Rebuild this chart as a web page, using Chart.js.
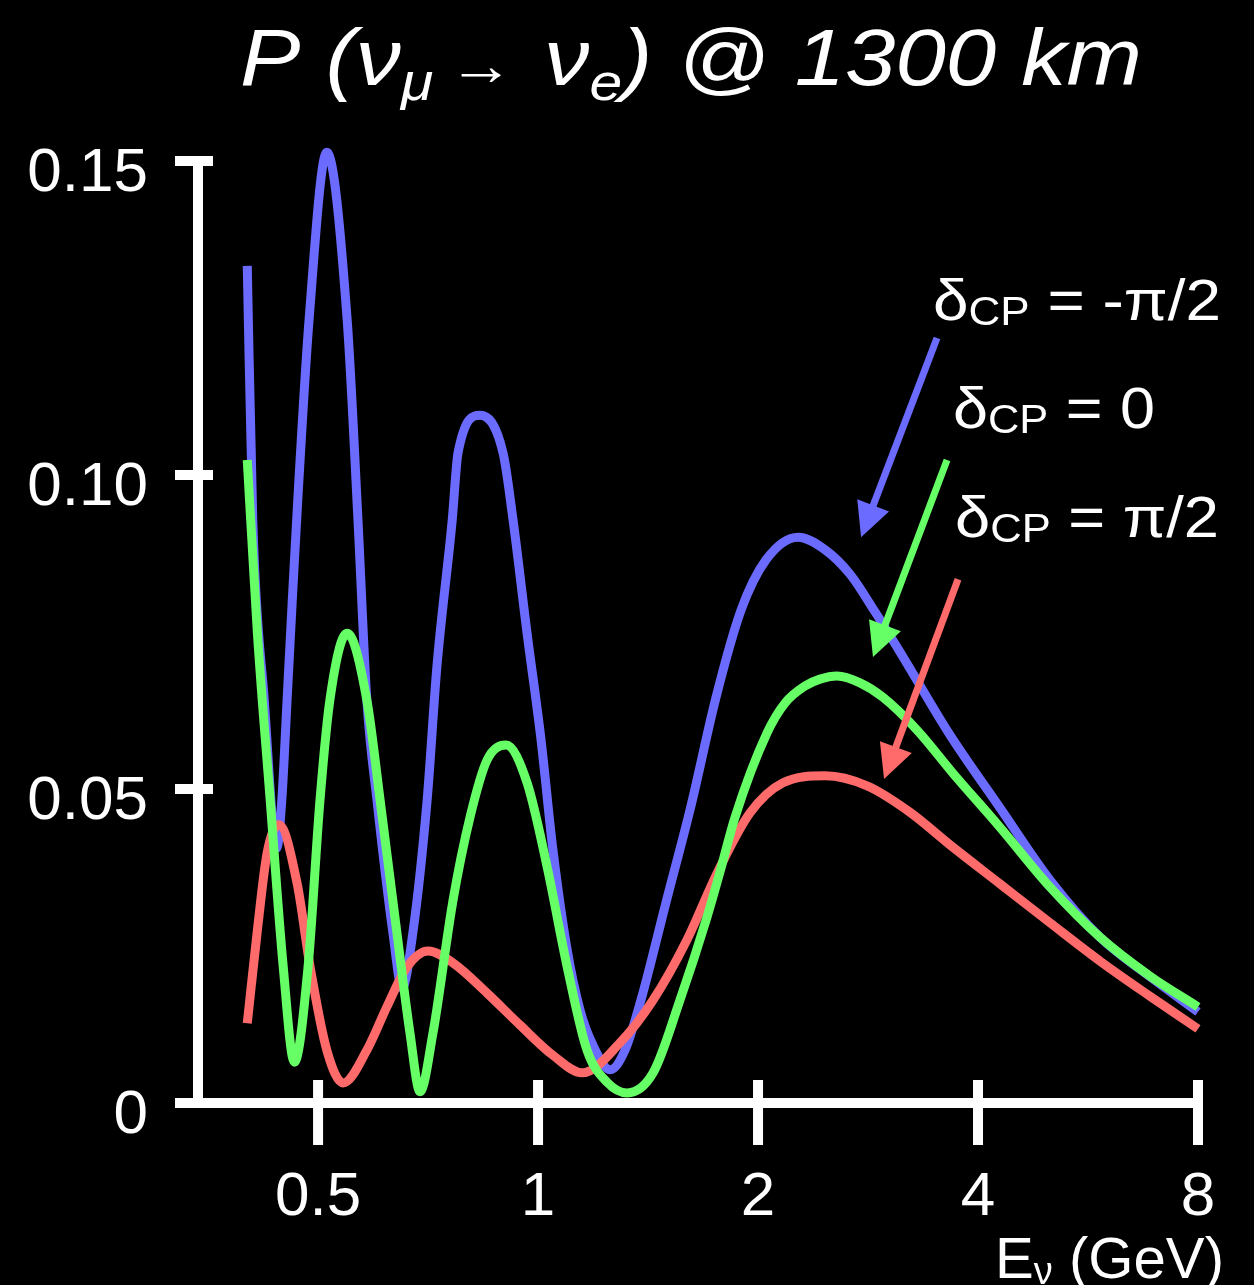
<!DOCTYPE html>
<html>
<head>
<meta charset="utf-8">
<script src="https://cdn.jsdelivr.net/npm/chart.js@4.4.1/dist/chart.umd.min.js"></script>
<style>
    html, body { margin: 0; padding: 0; background: #000; }
    canvas { display: block; }
</style>
</head>
<body>
<canvas id="probChart" width="1254" height="1285" style="width:1254px;height:1285px"></canvas>
<script>
// neutrino energies (GeV) and appearance probabilities
const energyMinusHalfPi = [0.400, 0.407, 0.422, 0.439, 0.446, 0.4535, 0.461, 0.469, 0.486, 0.514, 0.548, 0.567, 0.583, 0.602, 0.633, 0.6515, 0.674, 0.705, 0.727, 0.763, 0.777, 0.833, 0.8956, 0.9243, 0.966, 1.0095, 1.048, 1.096, 1.1415, 1.189, 1.255, 1.315, 1.383, 1.497, 1.619, 1.752, 1.896, 2.051, 2.269, 2.470, 2.673, 2.892, 3.129, 3.662, 4.287, 5.018, 5.874, 6.877, 8.0];
const probMinusHalfPi = [0.1333, 0.0928, 0.0642, 0.0406, 0.0482, 0.0642, 0.0801, 0.0960, 0.1247, 0.1514, 0.1247, 0.0928, 0.0642, 0.0482, 0.0271, 0.0183, 0.0271, 0.0482, 0.0694, 0.0928, 0.1035, 0.1095, 0.1035, 0.0928, 0.0748, 0.0578, 0.0403, 0.0244, 0.0148, 0.0092, 0.0053, 0.0084, 0.0164, 0.0320, 0.0473, 0.0646, 0.0785, 0.0865, 0.0901, 0.0881, 0.0842, 0.0782, 0.0718, 0.0586, 0.0470, 0.0355, 0.0264, 0.0201, 0.0145];

const energyZero = [0.400, 0.413, 0.430, 0.448, 0.464, 0.4845, 0.503, 0.519, 0.548, 0.583, 0.608, 0.641, 0.668, 0.6895, 0.718, 0.765, 0.807, 0.8515, 0.904, 0.966, 1.029, 1.096, 1.167, 1.243, 1.324, 1.437, 1.564, 1.703, 1.774, 1.860, 2.057, 2.178, 2.319, 2.431, 2.565, 2.758, 2.965, 3.300, 3.697, 4.287, 5.018, 5.874, 6.877, 8.0];
const probZero = [0.1024, 0.0748, 0.0482, 0.0217, 0.0065, 0.0217, 0.0482, 0.0642, 0.0748, 0.0642, 0.0482, 0.0271, 0.0111, 0.0018, 0.0111, 0.0323, 0.0455, 0.0546, 0.0570, 0.0510, 0.0376, 0.0217, 0.0084, 0.0033, 0.0016, 0.0048, 0.0164, 0.0296, 0.0368, 0.0455, 0.0589, 0.0637, 0.0664, 0.0675, 0.0680, 0.0669, 0.0646, 0.0594, 0.0525, 0.0439, 0.0344, 0.0264, 0.0202, 0.0153];

const energyHalfPi = [0.400, 0.4126, 0.4258, 0.442, 0.468, 0.4876, 0.514, 0.541, 0.583, 0.621, 0.662, 0.707, 0.765, 0.8515, 0.945, 1.048, 1.149, 1.295, 1.437, 1.599, 1.758, 1.950, 2.164, 2.470, 2.820, 3.228, 3.662, 4.287, 5.018, 5.874, 6.877, 8.0];
const probHalfPi = [0.0127, 0.0271, 0.0398, 0.0443, 0.0350, 0.0217, 0.0084, 0.0032, 0.0084, 0.0153, 0.0217, 0.0242, 0.0223, 0.0175, 0.0124, 0.0076, 0.0048, 0.0096, 0.0164, 0.0260, 0.0366, 0.0462, 0.0510, 0.0521, 0.0505, 0.0463, 0.0411, 0.0349, 0.0287, 0.0226, 0.0170, 0.0118];

const xTickValues = [0.5, 1, 2, 4, 8];
const xTickLabels = ['0.5', '1', '2', '4', '8'];
const yTickValues = [0, 0.05, 0.10, 0.15];
const yTickLabels = ['0', '0.05', '0.10', '0.15'];

// arrows from the labels to the curves: [fromE, fromP, toE, toP]
const arrowMinusHalfPi = [3.515, 0.1218, 2.767, 0.0901];
const arrowZero = [3.628, 0.1024, 2.873, 0.0710];
const arrowHalfPi = [3.756, 0.0834, 2.975, 0.0516];

const BLUE = '#6b6bff';
const GREEN = '#66ff66';
const RED = '#ff6b6b';
const FONT = "'Liberation Sans', Arial, Helvetica, sans-serif";

function toPoints(energies, probs) {
    return energies.map((e, i) => ({x: e, y: probs[i]}));
}

// draws a row of text pieces (with sub scripts) squeezed into the given width
function drawRuns(ctx, runs, left, baseline, width, italic) {
    const fontFor = r => `${italic && !r.upright ? 'italic ' : ''}${r.size}px ${FONT}`;
    let natural = 0;
    for (const r of runs) {
        ctx.font = fontFor(r);
        natural += ctx.measureText(r.text).width;
    }
    ctx.save();
    ctx.translate(left, baseline);
    ctx.scale(width / natural, 1);
    ctx.textAlign = 'left';
    ctx.textBaseline = 'alphabetic';
    let cx = 0;
    for (const r of runs) {
        ctx.font = fontFor(r);
        ctx.fillText(r.text, cx, r.dy || 0);
        cx += ctx.measureText(r.text).width;
    }
    ctx.restore();
}

function drawArrow(ctx, x1, y1, x2, y2, color) {
    const ang = Math.atan2(y2 - y1, x2 - x1);
    const headLen = 34, headHalf = 17;
    const bx = x2 - headLen * Math.cos(ang), by = y2 - headLen * Math.sin(ang);
    ctx.save();
    ctx.strokeStyle = color;
    ctx.fillStyle = color;
    ctx.lineWidth = 7;
    ctx.beginPath();
    ctx.moveTo(x1, y1);
    ctx.lineTo(bx + 4 * Math.cos(ang), by + 4 * Math.sin(ang));
    ctx.stroke();
    ctx.beginPath();
    ctx.moveTo(x2, y2);
    ctx.lineTo(bx + headHalf * Math.sin(ang), by - headHalf * Math.cos(ang));
    ctx.lineTo(bx - headHalf * Math.sin(ang), by + headHalf * Math.cos(ang));
    ctx.closePath();
    ctx.fill();
    ctx.restore();
}

const axesPlugin = {
    id: 'sketchAxes',
    beforeDatasetsDraw(chart) {
        const {ctx, scales: {x, y}} = chart;
        const ax = x.left;
        const y0 = y.getPixelForValue(0);
        const yTop = y.getPixelForValue(0.15);
        ctx.save();
        ctx.strokeStyle = '#fff';
        ctx.lineWidth = 10;
        ctx.lineCap = 'butt';
        ctx.beginPath();
        ctx.moveTo(ax, yTop - 5);
        ctx.lineTo(ax, y0);
        ctx.moveTo(ax - 23, y0);
        ctx.lineTo(x.getPixelForValue(8) + 5, y0);
        for (const v of yTickValues) {
            const py = y.getPixelForValue(v);
            ctx.moveTo(ax - 23, py);
            ctx.lineTo(ax + 15, py);
        }
        for (const v of xTickValues) {
            const px = x.getPixelForValue(v);
            ctx.moveTo(px, y0 - 23);
            ctx.lineTo(px, y0 + 42);
        }
        ctx.stroke();

        ctx.fillStyle = '#fff';
        ctx.font = `62px ${FONT}`;
        ctx.textBaseline = 'alphabetic';
        ctx.textAlign = 'right';
        yTickValues.forEach((v, i) => {
            ctx.fillText(yTickLabels[i], ax - 50, y.getPixelForValue(v) + 30);
        });
        ctx.textAlign = 'center';
        xTickValues.forEach((v, i) => {
            ctx.fillText(xTickLabels[i], x.getPixelForValue(v), y0 + 112);
        });
        ctx.restore();
    },
    afterDatasetsDraw(chart) {
        const {ctx, scales: {x, y}} = chart;
        const px = e => x.getPixelForValue(e);
        const py = p => y.getPixelForValue(p);

        drawArrow(ctx, px(arrowMinusHalfPi[0]), py(arrowMinusHalfPi[1]), px(arrowMinusHalfPi[2]), py(arrowMinusHalfPi[3]), BLUE);
        drawArrow(ctx, px(arrowZero[0]), py(arrowZero[1]), px(arrowZero[2]), py(arrowZero[3]), GREEN);
        drawArrow(ctx, px(arrowHalfPi[0]), py(arrowHalfPi[1]), px(arrowHalfPi[2]), py(arrowHalfPi[3]), RED);

        ctx.save();
        ctx.fillStyle = '#fff';
        // title
        drawRuns(ctx, [
            {text: 'P (', size: 80},
            {text: 'ν', size: 80},
            {text: 'μ', size: 52, dy: 15},
            {text: ' ', size: 48},
            {text: '→', size: 58, upright: true},
            {text: '  ', size: 48},
            {text: 'ν', size: 80},
            {text: 'e', size: 52, dy: 15},
            {text: ') @ 1300 km', size: 80}
        ], 240, 85, 902, true);

        // curve labels
        drawRuns(ctx, [
            {text: 'δ', size: 58},
            {text: 'CP', size: 40, dy: 5},
            {text: ' = -π/2', size: 58}
        ], 933, 320, 288, false);
        drawRuns(ctx, [
            {text: 'δ', size: 58},
            {text: 'CP', size: 40, dy: 5},
            {text: ' = 0', size: 58}
        ], 953, 428, 202, false);
        drawRuns(ctx, [
            {text: 'δ', size: 58},
            {text: 'CP', size: 40, dy: 5},
            {text: ' = π/2', size: 58}
        ], 955, 537, 264, false);

        // x axis title
        drawRuns(ctx, [
            {text: 'E', size: 58},
            {text: 'ν', size: 38, dy: 6},
            {text: ' (GeV)', size: 58}
        ], 995, 1278, 229, false);
        ctx.restore();
    }
};

const lineDefaults = {
    borderWidth: 9,
    pointRadius: 0,
    cubicInterpolationMode: 'monotone',
    borderJoinStyle: 'round',
    clip: false,
    fill: false
};

new Chart(document.getElementById('probChart'), {
    type: 'line',
    data: {
        datasets: [
            {label: 'δCP = 0', data: toPoints(energyZero, probZero), borderColor: GREEN, order: 0, ...lineDefaults},
            {label: 'δCP = π/2', data: toPoints(energyHalfPi, probHalfPi), borderColor: RED, order: 1, ...lineDefaults},
            {label: 'δCP = -π/2', data: toPoints(energyMinusHalfPi, probMinusHalfPi), borderColor: BLUE, order: 2, ...lineDefaults}
        ]
    },
    options: {
        responsive: false,
        animation: false,
        layout: {
            padding: {left: 198, right: 56, top: 161, bottom: 182}
        },
        scales: {
            x: {type: 'logarithmic', min: 0.3425, max: 8, bounds: 'data', display: false},
            y: {type: 'linear', min: 0, max: 0.15, display: false}
        },
        plugins: {
            legend: {display: false},
            tooltip: {enabled: false},
            title: {display: false}
        }
    },
    plugins: [axesPlugin]
});
</script>
</body>
</html>
